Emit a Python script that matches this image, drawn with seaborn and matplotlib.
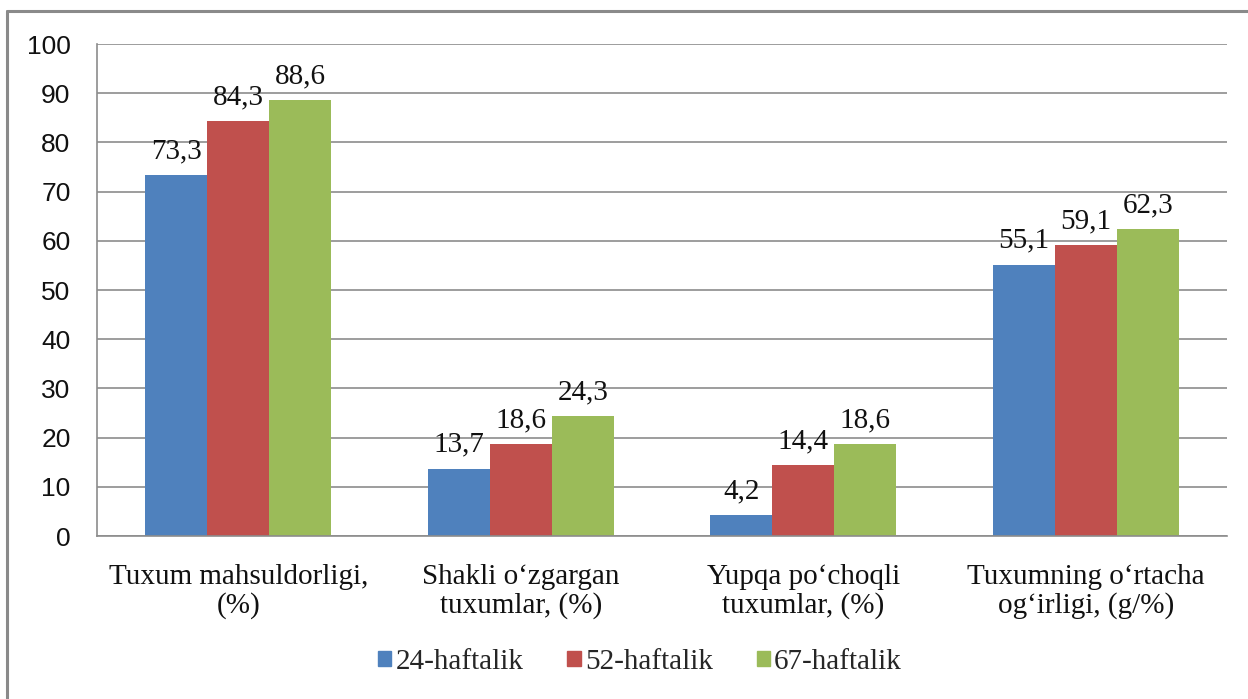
import matplotlib
matplotlib.use("Agg")
import matplotlib.pyplot as plt
from matplotlib.lines import Line2D
import seaborn as sns
import pandas as pd

categories = [
    "Tuxum mahsuldorligi,\n(%)",
    "Shakli o\u2018zgargan\ntuxumlar, (%)",
    "Yupqa po\u2018choqli\ntuxumlar, (%)",
    "Tuxumning o\u2018rtacha\nog\u2018irligi, (g/%)",
]
series_names = ["24-haftalik", "52-haftalik", "67-haftalik"]
week24 = [73.3, 13.7, 4.2, 55.1]
week52 = [84.3, 18.6, 14.4, 59.1]
week67 = [88.6, 24.3, 18.6, 62.3]
colors = ["#4F81BD", "#C0504D", "#9BBB59"]
y_ticks = [0, 10, 20, 30, 40, 50, 60, 70, 80, 90, 100]

rows = []
for name, vals in zip(series_names, [week24, week52, week67]):
    for cat, v in zip(categories, vals):
        rows.append({"category": cat, "series": name, "value": v})
df = pd.DataFrame(rows)

sns.set_style("white")
plt.rcParams["font.family"] = ["Liberation Serif", "DejaVu Serif"]

fig = plt.figure(figsize=(12.48, 6.99), dpi=100)
ax = fig.add_axes([97 / 1248, 1 - 536 / 699, (1227 - 97) / 1248, (536 - 44) / 699])

sns.barplot(data=df, x="category", y="value", hue="series", palette=colors,
            width=0.66, gap=0, saturation=1, linewidth=0, ax=ax, errorbar=None)

for cont in ax.containers:
    labels = [f"{b.get_height():.1f}".replace(".", ",") for b in cont]
    ax.bar_label(cont, labels=labels, padding=8, fontsize=21, color="#111111")

grid_c = "#8c8c8c"
ax.set_ylim(0, 100)
ax.set_yticks(y_ticks)
ax.set_xlim(-0.5, 3.5)
ax.yaxis.grid(True, color=grid_c, linewidth=1.2)
ax.set_axisbelow(True)
for s in ["top", "right"]:
    ax.spines[s].set_visible(False)
for s in ["left", "bottom"]:
    ax.spines[s].set_color(grid_c)
    ax.spines[s].set_linewidth(1.2)

ax.set_xlabel("")
ax.set_ylabel("")
ax.tick_params(axis="y", length=7, width=1.2, color=grid_c, pad=12)
for lab in ax.get_yticklabels():
    lab.set_fontfamily("Liberation Sans")
    lab.set_fontsize(19)
    lab.set_color("#111111")
ax.set_xticks([-0.5, 0.5, 1.5, 2.5, 3.5], minor=True)
ax.tick_params(axis="x", which="major", length=0, pad=20, labelsize=21)
ax.tick_params(axis="x", which="minor", length=7, width=1.2, color=grid_c)
for lab in ax.get_xticklabels():
    lab.set_linespacing(1.12)
    lab.set_color("#111111")

ax.legend_.remove()
handles = [plt.Rectangle((0, 0), 1, 1, color=c) for c in colors]
fig.legend(handles, series_names, loc="center", bbox_to_anchor=(640 / 1248, 1 - 662 / 699),
           ncol=3, frameon=False, fontsize=21, handlelength=0.45, handleheight=0.45,
           handletextpad=0.15, columnspacing=1.5)

# chart frame (only top and left edges are visible in the crop)
fig.add_artist(Line2D([7 / 1248, 7 / 1248], [0, 1 - 11 / 699], color="#8a8a8a", linewidth=2.2))
fig.add_artist(Line2D([7 / 1248, 1], [1 - 11 / 699, 1 - 11 / 699], color="#8a8a8a", linewidth=2.2))

fig.savefig("out.png", dpi=100)
